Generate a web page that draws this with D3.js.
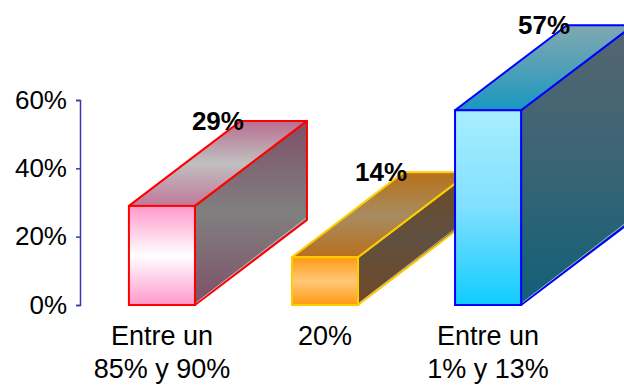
<!DOCTYPE html>
<html>
<head>
<meta charset="utf-8">
<script src="https://cdn.jsdelivr.net/npm/d3@7"></script>
<style>
  html, body { margin: 0; padding: 0; background: #fff; }
  svg { display: block; }
</style>
</head>
<body>
<svg id="chart" width="624" height="386"></svg>
<script>
// ---- data ----
const categories = [["Entre un", "85% y 90%"], ["20%"], ["Entre un", "1% y 13%"]];
const values = [29, 14, 57];
const tickValues = [0, 20, 40, 60];
const tickLabels = ["0%", "20%", "40%", "60%"];

// ---- styles ----
const styles = [
  { stroke: "#ff0000",
    front: ["#ff99cc", "#ffffff", "#ff99cc"],
    top: ["#b86e90", "#c0c0c0", "#c07898"],
    side: ["#7e5066", "#808080", "#7e5066"] },
  { stroke: "#ffcc00",
    front: ["#ff9a10", "#ffc878", "#ff9a10"],
    top: ["#b87018", "#a88c60", "#b87020"],
    side: ["#6c4a26", "#605040", "#704826"] },
  { stroke: "#0000ff",
    front: ["#a8eeff", "#80e0ff", "#10ccff"],
    top: ["#80a8b0", "#50a0b8", "#1898c0"],
    side: ["#556670", "#3a6474", "#106078"] }
];

const W = 624, H = 386;
const svg = d3.select("#chart");
const keys = categories.map((c, i) => "c" + i);

const x = d3.scaleBand().domain(keys).range([80, 570]).paddingInner(0.595).paddingOuter(0.3);
const y = d3.scaleLinear().domain([0, 60]).range([305, 100]);
const DX = 112, DY = 85;

// gradients
const defs = svg.append("defs");
styles.forEach((s, i) => {
  ["front", "top", "side"].forEach(face => {
    const g = defs.append("linearGradient")
      .attr("id", `g${i}${face}`)
      .attr("x1", 0).attr("y1", 0).attr("x2", 0).attr("y2", 1);
    s[face].forEach((c, k) => g.append("stop").attr("offset", k / (s[face].length - 1)).attr("stop-color", c));
  });
});

// axis
const axis = d3.axisLeft(y).tickValues(tickValues)
  .tickFormat((d, i) => tickLabels[i]).tickSize(4).tickPadding(9);
const ag = svg.append("g").attr("transform", "translate(80,0)").call(axis);
ag.select(".domain").attr("stroke", "#3838a8").attr("stroke-width", 1.5);
ag.selectAll(".tick line").attr("stroke", "#3838a8").attr("stroke-width", 1.5);
ag.selectAll(".tick text")
  .attr("font-family", "'Liberation Sans', Arial, sans-serif")
  .attr("font-size", 26).attr("fill", "#000");

// bars
const line = d3.line();
values.forEach((v, i) => {
  const s = styles[i];
  const x0 = x(keys[i]), x1 = x0 + x.bandwidth();
  const y0 = y(0), y1 = y(v);
  const g = svg.append("g");
  // side
  g.append("path")
    .attr("d", line([[x1, y1], [x1 + DX, y1 - DY], [x1 + DX, y0 - DY], [x1, y0]]) + "Z")
    .attr("fill", `url(#g${i}side)`).attr("stroke", s.stroke).attr("stroke-width", 2)
    .attr("stroke-linejoin", "round");
  g.append("path")
    .attr("d", line([[x1 + 1.5, y0 - 2.5], [x1 + DX - 1.5, y0 - DY - 1.5]]))
    .attr("stroke", "#ffffff").attr("stroke-opacity", 0.7).attr("stroke-width", 0.8).attr("fill", "none");
  // top
  g.append("path")
    .attr("d", line([[x0, y1], [x1, y1], [x1 + DX, y1 - DY], [x0 + DX, y1 - DY]]) + "Z")
    .attr("fill", `url(#g${i}top)`).attr("stroke", s.stroke).attr("stroke-width", 2)
    .attr("stroke-linejoin", "round");
  // front
  g.append("rect")
    .attr("x", x0).attr("y", y1).attr("width", x1 - x0).attr("height", y0 - y1)
    .attr("fill", `url(#g${i}front)`).attr("stroke", s.stroke).attr("stroke-width", 2);
});

// value labels
svg.append("g").selectAll("text").data(values).join("text")
  .attr("x", (d, i) => x(keys[i]) + x.bandwidth() / 2 + DX / 2)
  .attr("y", d => y(d) - DY + 9)
  .attr("text-anchor", "middle")
  .attr("font-family", "'Liberation Sans', Arial, sans-serif")
  .attr("font-weight", "bold").attr("font-size", 26).attr("fill", "#000")
  .text(d => d + "%");

// category labels
const cg = svg.append("g");
categories.forEach((lines, i) => {
  const t = cg.append("text")
    .attr("x", x(keys[i]) + x.bandwidth() / 2)
    .attr("y", 345)
    .attr("text-anchor", "middle")
    .attr("font-family", "'Liberation Sans', Arial, sans-serif")
    .attr("font-size", 27).attr("fill", "#000");
  lines.forEach((l, k) => t.append("tspan")
    .attr("x", x(keys[i]) + x.bandwidth() / 2)
    .attr("dy", k === 0 ? 0 : 32.5).text(l));
});
</script>
</body>
</html>
